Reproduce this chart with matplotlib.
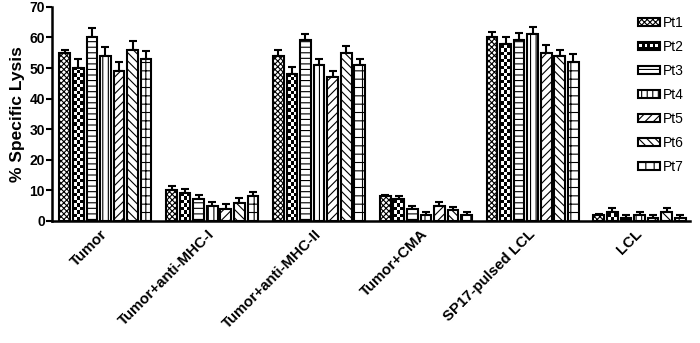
"""Specific lysis of tumour and LCL targets by patient-derived T cells."""

import matplotlib

matplotlib.use("Agg")
import matplotlib.pyplot as plt
import numpy as np
from matplotlib.legend_handler import HandlerBase
from matplotlib.patches import Rectangle


CONDITIONS = ["Tumor", "Tumor+anti-MHC-I", "Tumor+anti-MHC-II", "Tumor+CMA", "SP17-pulsed LCL", "LCL"]
PATIENTS = ["Pt1", "Pt2", "Pt3", "Pt4", "Pt5", "Pt6", "Pt7"]

# one row per patient, one column per condition
LYSIS = [
    [55, 10, 54, 8, 60, 2],
    [50, 9, 48, 7, 58, 3],
    [60, 7, 59, 4, 59, 1],
    [54, 5, 51, 2, 61, 2],
    [49, 4, 47, 5, 55, 1],
    [56, 6, 55, 3.5, 54, 3],
    [53, 8, 51, 2, 52, 1],
]
SEM = [
    [1.0, 1.4, 2.0, 0.4, 1.7, 0.3],
    [3.0, 1.4, 2.2, 1.0, 2.0, 1.3],
    [3.0, 1.4, 2.2, 1.0, 2.3, 0.8],
    [3.0, 1.3, 2.0, 1.0, 2.5, 1.0],
    [3.0, 1.6, 2.0, 1.1, 2.4, 0.8],
    [2.7, 1.4, 2.2, 1.0, 2.0, 1.3],
    [2.7, 1.4, 2.0, 1.0, 2.6, 0.8],
]
HATCHES = ["xxxxxx", None, "---", "|||", "////", "\\\\\\\\", "++"]
CHECKER = 1  # Pt2 is drawn with a checkerboard fill


class CheckerHandler(HandlerBase):
    def create_artists(self, legend, orig_handle, xdescent, ydescent, width, height, fontsize, trans):
        x0, y0 = -xdescent, -ydescent
        arts = [Rectangle((x0, y0), width, height, facecolor="black", edgecolor="black", lw=1.5, transform=trans)]
        n = 4
        step = width / n
        for k in range(n):
            arts.append(Rectangle((x0 + k * step + step * 0.25, y0 + height * 0.3), step * 0.5, height * 0.45,
                                  facecolor="white", edgecolor="none", transform=trans))
        return arts


def checker_fill(ax, bar, cell_y=1.15, cols=3):
    x, w, h = bar.get_x(), bar.get_width(), bar.get_height()
    rows = int(np.ceil(h / cell_y)) + 1
    grid = (np.add.outer(np.arange(rows), np.arange(cols)) % 2).astype(float)
    img = ax.imshow(grid, cmap="gray_r", vmin=0, vmax=1, extent=(x, x + w, 0, rows * cell_y),
                    origin="lower", aspect="auto", interpolation="nearest", zorder=1.5)
    img.set_clip_path(bar)


def main() -> None:
    plt.rcParams["font.family"] = ["Liberation Sans", "DejaVu Sans"]
    plt.rcParams["hatch.linewidth"] = 0.8
    fig = plt.figure(figsize=(7.0, 3.43), dpi=100)
    ax = fig.add_axes([0.0743, 0.356, 0.911, 0.624])

    x = np.arange(len(CONDITIONS))
    pitch, width = 0.127, 0.1
    containers = []
    for i, name in enumerate(PATIENTS):
        pos = x + (i - 3) * pitch
        vals = np.array(LYSIS[i], dtype=float)
        err = np.array(SEM[i], dtype=float)
        ax.errorbar(pos, vals, yerr=[np.zeros_like(err), err], fmt="none", ecolor="black",
                    elinewidth=1.5, capsize=3, capthick=1.5, zorder=1)
        face = "none" if i == CHECKER else "white"
        bars = ax.bar(pos, vals, width, facecolor=face, edgecolor="black", linewidth=1.5,
                      hatch=HATCHES[i], label=name, zorder=2)
        if i == CHECKER:
            for b in bars:
                checker_fill(ax, b)
        containers.append(bars)

    ax.set_xlim(-0.5, 5.47)
    ax.set_ylim(0, 70)
    ax.set_yticks(np.arange(0, 71, 10))
    ax.set_xticks(x)
    ax.set_xticklabels(CONDITIONS, rotation=45, ha="right", va="center", rotation_mode="anchor",
                       fontsize=10.8, fontweight="bold")
    ax.tick_params(axis="x", length=0, pad=8)
    ax.tick_params(axis="y", length=4, width=1.5, labelsize=10, pad=1)
    for lab in ax.get_yticklabels():
        lab.set_fontweight("bold")
    ax.set_ylabel("% Specific Lysis", fontsize=12.5, fontweight="bold", labelpad=3)
    for side in ("top", "right"):
        ax.spines[side].set_visible(False)
    for side in ("left", "bottom"):
        ax.spines[side].set_linewidth(1.8)

    fig.legend(containers, PATIENTS, loc="upper left", bbox_to_anchor=(638 / 700, 1 - 16 / 343),
               frameon=False, fontsize=10, handlelength=1.55, handleheight=0.42, labelspacing=0.72,
               handletextpad=0.25, borderpad=0, borderaxespad=0,
               handler_map={containers[CHECKER]: CheckerHandler()})

    fig.savefig("out.png", dpi=100)


if __name__ == "__main__":
    main()
